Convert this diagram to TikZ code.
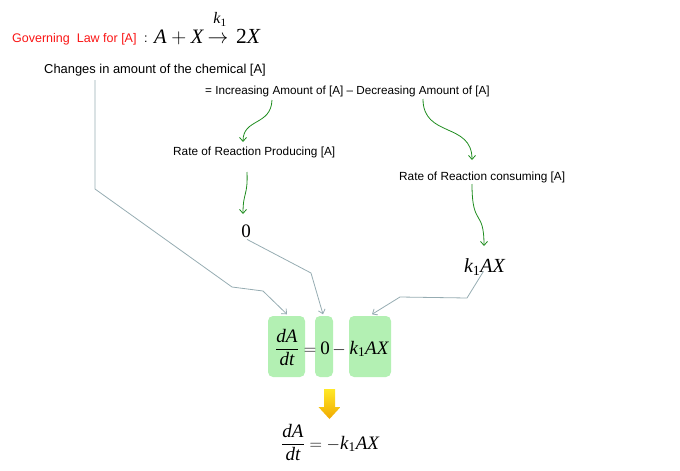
\documentclass[tikz,border=0pt]{standalone}
\usepackage{amsmath}
\usepackage{fontspec}
\setmainfont{Liberation Sans}
\newfontfamily\tms{Liberation Serif}
\usetikzlibrary{arrows.meta}
\definecolor{boxgreen}{RGB}{179,240,179}
\definecolor{arrgreen}{RGB}{30,140,30}
\definecolor{linegray}{RGB}{150,172,178}
\definecolor{lawred}{RGB}{250,20,20}
\definecolor{arrtop}{RGB}{255,232,40}
\definecolor{arrbot}{RGB}{240,170,0}
\newcommand\mv[1]{\text{\tms\itshape #1}}
\newcommand\mn[1]{\text{\tms #1}}
\begin{document}
\begin{tikzpicture}[x=1pt,y=-1pt,
  lbl/.style={inner sep=0pt, anchor=base west, font=\fontsize{11.8}{14}\selectfont},
  mth/.style={inner sep=0pt, anchor=base, font=\fontsize{19}{22}\selectfont},
  garrow/.style={draw=arrgreen, line width=0.8pt, -{Straight Barb[length=4pt,width=7pt]}},
  glink/.style={draw=linegray, line width=0.8pt, -{Straight Barb[length=4pt,width=7pt]}},
  gbox/.style={fill=boxgreen, rounded corners=5pt, draw=none, inner sep=0pt}]
\useasboundingbox (0,0) rectangle (680,471);

% green boxes
\node[gbox, minimum width=37pt, minimum height=61pt] (b1) at (286.5,346.5) {};
\node[gbox, minimum width=18pt, minimum height=61pt] (b2) at (324,346.5) {};
\node[gbox, minimum width=42pt, minimum height=61pt] (b3) at (370,346.5) {};

% top line
\node[lbl, anchor=base west, text=lawred, font=\fontsize{12.5}{15}\selectfont] (gov) at (12,42) {Governing\ \ Law for [A]};
\node[lbl, anchor=base west, font=\fontsize{12.5}{15}\selectfont] (colon) at (144,42) {:};
\node[mth, anchor=base west, font=\fontsize{20.5}{24}\selectfont] (lawl) at (154,43) {$\mv{A}+\mv{X}$};
\node[mth, font=\fontsize{20.5}{24}\selectfont] (lawarr) at (218,43) {$\rightarrow$};
\node[mth, font=\fontsize{16}{19}\selectfont] (lawk) at (220,23.5) {$\mv{k}_{\mn{1}}$};
\node[mth, anchor=base west, font=\fontsize{21.5}{24}\selectfont] (lawr) at (236,43) {$\mn{2}\mv{X}$};

\node[lbl, font=\fontsize{12.9}{15}\selectfont] (chg) at (44,73) {Changes in amount of the chemical [A]};
\node[lbl, font=\fontsize{11.7}{14}\selectfont] (incdec) at (205,94) {= Increasing Amount of [A] -- Decreasing Amount of [A]};
\node[lbl] (prod) at (173,155) {Rate of Reaction Producing [A]};
\node[lbl] (cons) at (399,180) {Rate of Reaction consuming [A]};

\node[mth] (zero) at (246,237) {$\mn{0}$};
\node[mth, font=\fontsize{20}{24}\selectfont] (kax) at (484.5,272) {$\mv{k}_{\mn{1}}\mv{AX}$};

% equation in boxes
\node[mth] (fr) at (287,354) {$\displaystyle\frac{\mv{dA}}{\mv{dt}}$};
\node[mth] (eqs) at (310,354) {$=$};
\node[mth] (z2) at (325,354) {$\mn{0}$};
\node[mth] (mns) at (339,354) {$-$};
\node[mth] (k2) at (369,354) {$\mv{k}_{\mn{1}}\mv{AX}$};

% final equation
\node[mth, anchor=base west] (fin) at (281,449) {$\displaystyle\frac{\mv{dA}}{\mv{dt}}=-\mv{k}_{\mn{1}}\mv{AX}$};

% yellow block arrow
\path[top color=arrtop, bottom color=arrbot] (324,389) -- (335,389) -- (335,407) -- (340.5,407) -- (329.5,419) -- (318.5,407) -- (324,407) -- cycle;

% green arrows
\coordinate (g1s) at (272,100);
\coordinate (g1e) at (243,142);
\coordinate (g2s) at (423,99);
\coordinate (g2e) at (472,160);
\coordinate (g3s) at (247,172);
\coordinate (g3e) at (243,214);
\coordinate (g4s) at (472,184);
\coordinate (g4e) at (484,246);
\draw[garrow] (g1s) .. controls (271,126) and (243,118) .. (g1e);
\draw[garrow] (g2s) .. controls (423,138) and (472,122) .. (g2e);
\draw[garrow] (g3s) .. controls (248,196) and (243,192) .. (g3e);
\draw[garrow] (g4s) .. controls (472,228) and (484,208) .. (g4e);

% gray connectors
\coordinate (ca) at (95,80);
\draw[glink] (ca) -- (95,189) -- (232,287) -- (263,291) -- ([xshift=0.5pt,yshift=1.5pt]b1.north);
\draw[glink] (zero.south) ++(1,2) -- (311,273) -- ([xshift=-1pt,yshift=1.5pt]b2.north);
\draw[glink] ([xshift=-1pt,yshift=4pt]kax.south) -- (467,298) -- (400,297) -- ([xshift=2pt,yshift=1.5pt]b3.north);
\end{tikzpicture}
\end{document}
